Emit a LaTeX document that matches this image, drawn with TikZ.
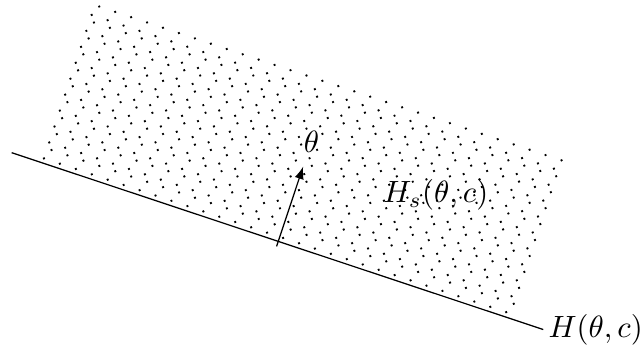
\documentclass[tikz,border=0pt]{standalone}
\usepackage{tikz}
\usepackage{amsmath}
\usetikzlibrary{positioning,arrows,calc}

\begin{document}
\begin{tikzpicture}[scale=0.96]
    \useasboundingbox (0,0) rectangle (7.643,4.155);
    \begin{scope}[shift={(0.139,2.337)}, rotate=-18.4]
        % dotted half space H_s
        \foreach \i in {0,...,29} {
            \foreach \j in {0,...,9} {
                \fill (0.44+0.2*\i, 1.98-0.2*\j) circle (0.45pt);
                \fill (0.386+0.2*\i, 1.857-0.2*\j) circle (0.45pt);
            }
        }
        \coordinate (start) at (0,0);
        \node[anchor=west, inner sep=1.5pt] (hlabel) at (6.67,0) {$H(\theta,c)$};
        \draw (start) -- (hlabel.west);

        \coordinate (base) at (3.345,-0.063);
        \coordinate (tip) at (3.345,0.937);
        \draw[-latex] (base) -- (tip);
        \node (theta) at (3.345,1.25) {$\theta$};
        \node (hs) at (4.95,1.118) {$H_s(\theta,c)$};
    \end{scope}
\end{tikzpicture}
\end{document}
